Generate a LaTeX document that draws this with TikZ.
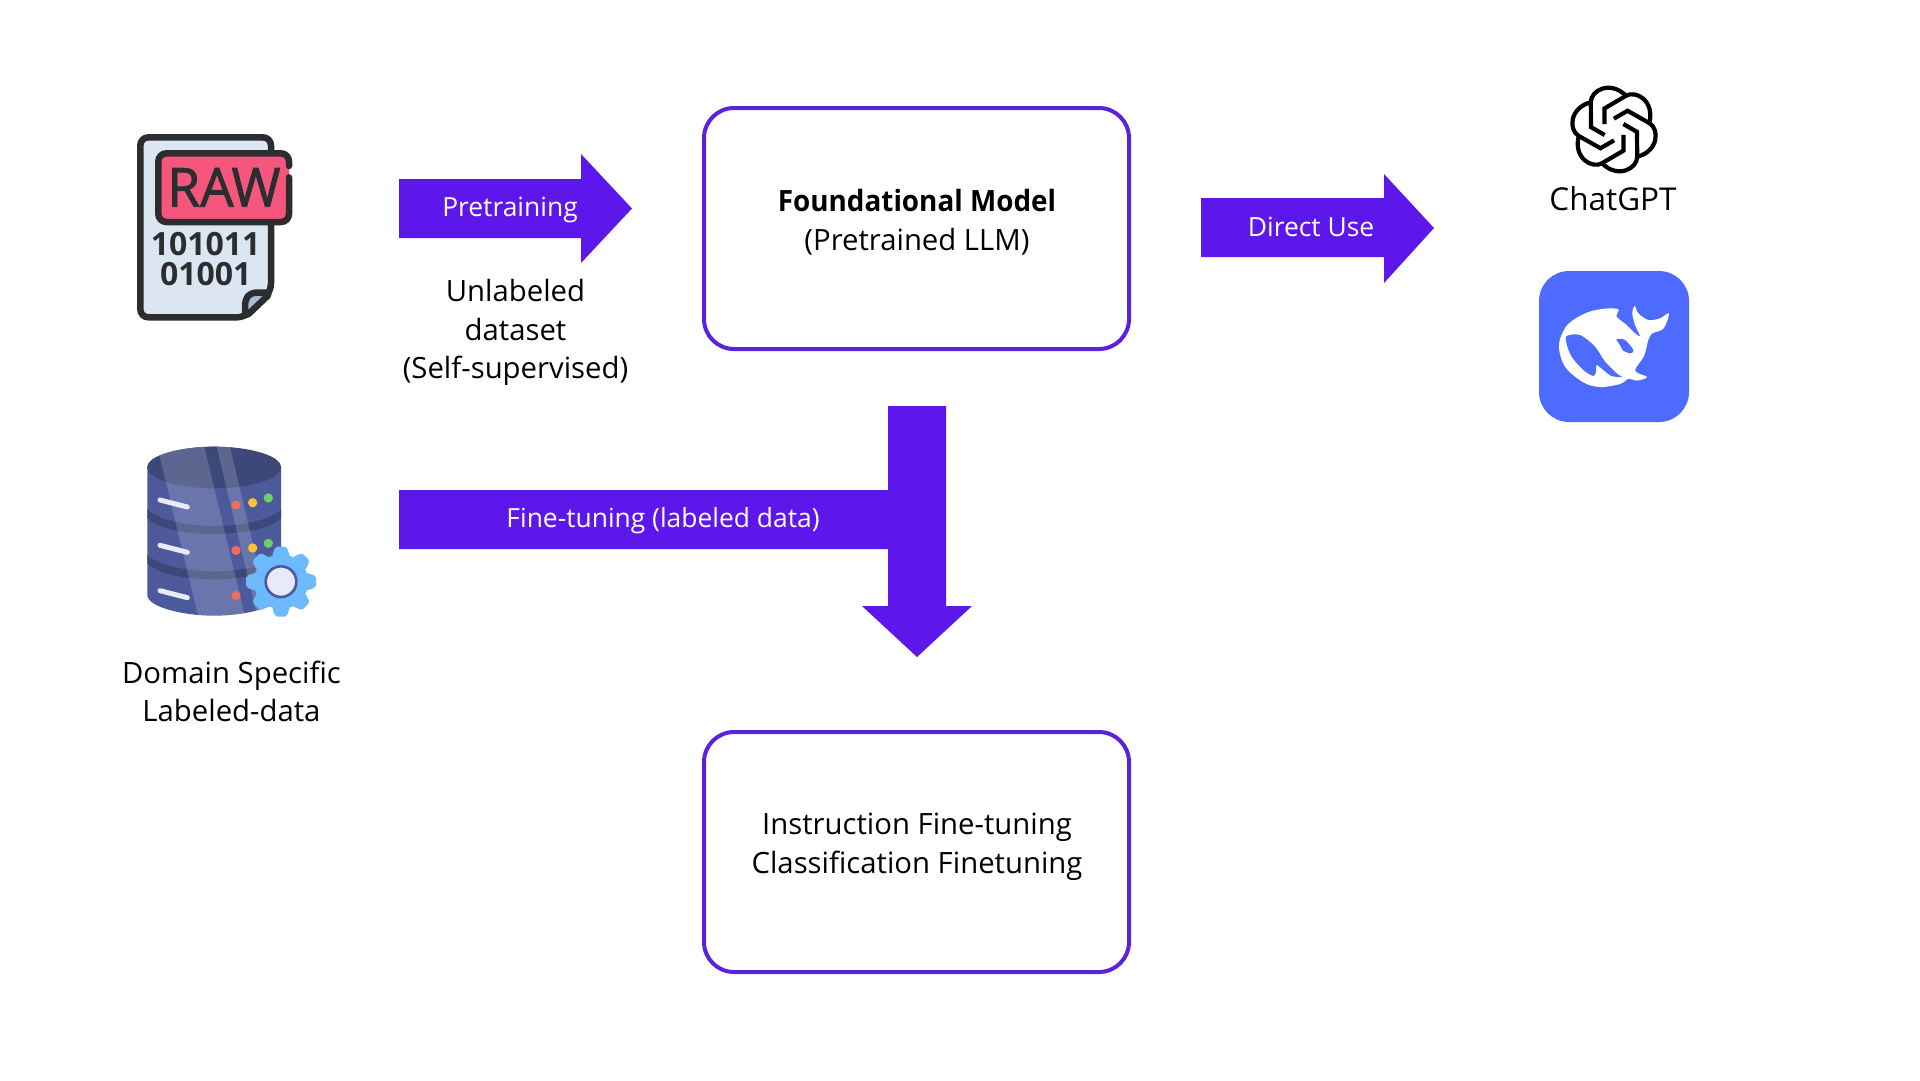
\documentclass[tikz,border=0pt]{standalone}
\usepackage{fontspec}
\setmainfont{Open Sans}
\definecolor{violetx}{HTML}{5E17EB}
\definecolor{boxline}{HTML}{5A22DC}
\definecolor{inkdark}{HTML}{2B2D30}
\definecolor{paperc}{HTML}{DCE6F2}
\definecolor{foldc}{HTML}{A9B9D6}
\definecolor{rawc}{HTML}{F7567C}
\definecolor{dbbody}{HTML}{4C5A9B}
\definecolor{dbdark}{HTML}{3C4878}
\definecolor{gearc}{HTML}{6CB9FB}
\definecolor{gearin}{HTML}{E8E9FB}
\definecolor{dsblue}{HTML}{4D6BFE}
\definecolor{dotred}{HTML}{EE6C60}
\definecolor{dotyellow}{HTML}{FBC23C}
\definecolor{dotgreen}{HTML}{6BCF6B}
\tikzset{
  modelbox/.style={draw=boxline,line width=4pt,rounded corners=30pt,fill=white},
  blockarrow/.style={fill=violetx,draw=none},
  arrowlabel/.style={text=white,font=\fontsize{26.4}{30}\selectfont,inner sep=0pt,anchor=base},
  bodytext/.style={text=black,font=\fontsize{29.3}{38.6}\selectfont,align=center,inner sep=0pt},
  icozoom/.style={x=.33333pt,y=-.33333pt},
  inkline/.style={draw=inkdark,line width=6.5pt,line join=round,line cap=round},
  logostroke/.style={draw=black,line width=4.2pt,line join=miter}
}
\begin{document}
\begin{tikzpicture}[x=1pt,y=-1pt]
\useasboundingbox (0,0) rectangle (1920,1080);
\fill[white] (0,0) rectangle (1920,1080);

% boxes
\draw[modelbox] (704,108) rectangle (1129,349);
\draw[modelbox] (704,732) rectangle (1129,972);
\node[bodytext] (foundational) at (917,222) {{\fontspec{Open Sans}[FakeStretch=.95]\bfseries Foundational Model}\\(Pretrained LLM)};
\node[bodytext] (instruction) at (917,847) {Instruction Fine-tuning\\Classification Finetuning};

% block arrows
\fill[blockarrow] (399,179) -- (581,179) -- (581,154) -- (632,208.5) -- (581,263) -- (581,238) -- (399,238) -- cycle;
\node[arrowlabel] (pretraining) at (510,216.5) {Pretraining};
\fill[blockarrow] (1201,198) -- (1384,198) -- (1384,174) -- (1434,228) -- (1384,283) -- (1384,257) -- (1201,257) -- cycle;
\node[arrowlabel] (directuse) at (1311,236) {Direct Use};
\fill[blockarrow] (399,490) -- (888,490) -- (888,406) -- (946,406) -- (946,606) -- (972,606) -- (917,657) -- (862,606) -- (888,606) -- (888,549) -- (399,549) -- cycle;
\node[arrowlabel] (finetuning) at (663,527) {Fine-tuning (labeled data)};

% labels
\node[bodytext] (unlabeled) at (515.5,332.5) {Unlabeled\\dataset\\(Self-supervised)};
\node[bodytext] (domain) at (231.5,691.5) {Domain Specific\\Labeled-data};
\node[text=black,inner sep=0pt,font=\fontsize{31.5}{36}\selectfont] (chatgpt) at (1613,198.5) {ChatGPT};

% RAW file icon
\begin{scope}[shift={(100,100)},icozoom]
  \path[fill=paperc,inkline,rounded corners=8pt] (121,112) -- (513,112) -- (513,575) -- (435,652) -- (121,652) -- cycle;
  \path[fill=foldc,inkline,rounded corners=5pt] (435,652) -- (435,600) -- (452,578) -- (513,578) -- cycle;
  \fill[rawc,rounded corners=8pt] (175,160) rectangle (567,366);
  \path[inkline,rounded corners=8pt] (567,232) -- (567,366) -- (175,366) -- (175,160) -- (567,160) -- (567,198);
  \node[inner sep=0pt,text=inkdark,font=\fontsize{54}{54}\selectfont] (rawtext) at (372,262) {\fontspec{Open Sans}[FakeBold=1.6,FakeStretch=.98]RAW};
  \node[inner sep=0pt,text=inkdark,font=\fontsize{32}{32}\bfseries] (digitsa) at (317,431) {101011};
  \node[inner sep=0pt,text=inkdark,font=\fontsize{32}{32}\bfseries] (digitsb) at (317,523) {01001};
\end{scope}

% database icon
\begin{scope}[shift={(110,420)},icozoom]
  \begin{scope}
    \clip (112,142) -- (112,525) .. controls (112,560) and (215,587) .. (312,587) .. controls (410,587) and (513,560) .. (513,525) -- (513,142) .. controls (513,105) and (410,80) .. (312,80) .. controls (215,80) and (112,105) .. (112,142) -- cycle;
    \fill[dbbody] (100,70) rectangle (525,600);
    \fill[dbdark] (112,268) .. controls (140,300) and (230,318) .. (312,318) .. controls (395,318) and (485,300) .. (513,268) -- (513,294) .. controls (485,326) and (395,342) .. (312,342) .. controls (230,342) and (140,326) .. (112,294) -- cycle;
    \fill[dbdark] (112,404) .. controls (140,436) and (230,454) .. (312,454) .. controls (395,454) and (485,436) .. (513,404) -- (513,430) .. controls (485,462) and (395,478) .. (312,478) .. controls (230,478) and (140,462) .. (112,430) -- cycle;
    \fill[dbdark] (112,142) .. controls (112,180) and (215,205) .. (312,205) .. controls (410,205) and (513,180) .. (513,142) .. controls (513,105) and (410,80) .. (312,80) .. controls (215,80) and (112,105) .. (112,142) -- cycle;
    \fill[white,opacity=.17] (142,80) -- (283,80) -- (405,590) -- (265,590) -- cycle;
    \fill[white,opacity=.17] (320,80) -- (360,80) -- (480,590) -- (442,590) -- cycle;
  \end{scope}
  \foreach \dy in {0,136,272}{
    \draw[gearin,line width=5pt,line cap=round] (150,240+\dy) -- (232,261+\dy);
    \fill[dotred] (378,255+\dy) circle (14);
  }
  \foreach \dy in {0,136}{
    \fill[dotyellow] (428,248+\dy) circle (14);
    \fill[dotgreen] (475,234+\dy) circle (14);
  }
  \fill[gearc] (513,485) circle (82);
  \foreach \a in {0,45,...,315}{
    \begin{scope}[shift={(513,485)},rotate=\a]
      \fill[gearc,rounded corners=2pt] (-27,-76) -- (-17,-105) -- (17,-105) -- (27,-76) -- cycle;
    \end{scope}
  }
  \draw[dbbody,fill=gearin,line width=2.6pt] (513,485) circle (46);
\end{scope}

% ChatGPT knot logo
\begin{scope}[shift={(1614,129.5)},x=.315pt,y=-.315pt]
  \foreach \a in {0,60,...,300}{
    \begin{scope}[rotate=\a]
      \draw[logostroke] (-30,-17) -- (-30,-67) -- (38,-107) .. controls (70,-126) and (130,-90) .. (112,-21);
    \end{scope}
  }
\end{scope}

% DeepSeek icon
\fill[dsblue,rounded corners=30pt] (1539,271) rectangle (1689,422);
\begin{scope}[shift={(1520,250)},icozoom]
  \fill[white] plot[smooth cycle,tension=.55] coordinates {(295,178) (255,176) (200,188) (142,225) (117,285) (135,350) (190,397) (240,411) (300,402) (326,386) (350,392) (381,381) (345,362) (372,318) (385,270) (397,250) (430,236) (447,190) (420,205) (385,210) (355,190) (344,168) (337,190) (345,225) (360,258) (345,250) (320,225) (290,200)};
  \fill[dsblue] plot[smooth cycle,tension=.5] coordinates {(140,258) (180,255) (225,290) (255,335) (290,370) (306,381) (275,378) (250,360) (230,345) (228,365) (220,378) (190,360) (155,320) (140,282)};
  \fill[dsblue] plot[smooth cycle,tension=.5] coordinates {(290,268) (315,270) (340,300) (332,310) (310,302) (298,282)};
  \fill[white] (293,285) circle (4);
\end{scope}
\end{tikzpicture}
\end{document}
